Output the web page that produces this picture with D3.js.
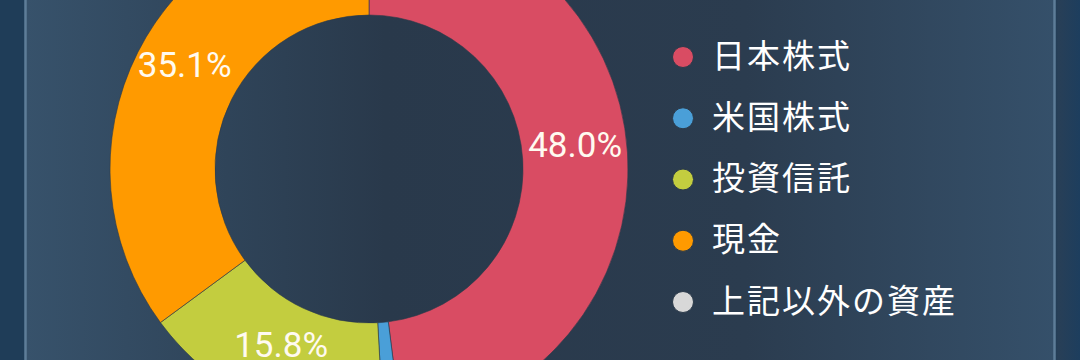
<!DOCTYPE html>
<html>
<head>
<meta charset="utf-8">
<script src="https://cdn.jsdelivr.net/npm/d3@7/dist/d3.min.js"></script>
<style>
  html, body { margin: 0; padding: 0; background: #1e3c58; }
  svg { display: block; }
</style>
</head>
<body>
<svg id="chart" width="1080" height="360"></svg>
<script>
const categories = ["日本株式", "米国株式", "投資信託", "現金", "上記以外の資産"];
const values = [48.0, 1.1, 15.8, 35.1, 0];
const colors = ["#d94c63", "#4a9fd8", "#c3cd3f", "#ff9a00", "#d8d8d8"];

const W = 1080, H = 360;
const svg = d3.select("#chart");
const defs = svg.append("defs");

const outerGrad = defs.append("linearGradient").attr("id", "outerGrad")
  .attr("x1", "0%").attr("x2", "100%").attr("y1", "0%").attr("y2", "0%");
outerGrad.append("stop").attr("offset", "0%").attr("stop-color", "#1f3d58");
outerGrad.append("stop").attr("offset", "97.5%").attr("stop-color", "#1f3d58");
outerGrad.append("stop").attr("offset", "98%").attr("stop-color", "#283f57");
outerGrad.append("stop").attr("offset", "100%").attr("stop-color", "#1d3e5e");

const panelGrad = defs.append("linearGradient").attr("id", "panelGrad")
  .attr("x1", "0%").attr("x2", "100%").attr("y1", "0%").attr("y2", "0%");
panelGrad.append("stop").attr("offset", "0%").attr("stop-color", "#37526b");
panelGrad.append("stop").attr("offset", "35%").attr("stop-color", "#29394b");
panelGrad.append("stop").attr("offset", "70%").attr("stop-color", "#2b3c4f");
panelGrad.append("stop").attr("offset", "100%").attr("stop-color", "#35506a");

svg.append("rect").attr("width", W).attr("height", H).attr("fill", "url(#outerGrad)");
svg.append("rect").attr("x", 25.5).attr("y", -5).attr("width", 1029).attr("height", H + 10)
  .attr("fill", "url(#panelGrad)").attr("stroke", "#5e7d98").attr("stroke-width", 2.5);

const cx = 369, cy = 169, rIn = 154, rOut = 259;

const pie = d3.pie().sort(null).value(d => d.v);
const data = pie(categories.map((c, i) => ({ c, v: values[i], color: colors[i] })));
const arc = d3.arc().innerRadius(rIn).outerRadius(rOut);

const g = svg.append("g").attr("transform", `translate(${cx},${cy})`);
g.selectAll("path.slice").data(data.filter(d => d.data.v > 0)).join("path")
  .attr("class", "slice")
  .attr("d", arc)
  .attr("fill", d => d.data.color)
  .attr("stroke", "#2b3a4a")
  .attr("stroke-opacity", 0.6)
  .attr("stroke-width", 1);

g.selectAll("text.lbl").data(data.filter(d => d.data.v >= 5)).join("text")
  .attr("class", "lbl")
  .attr("x", d => arc.centroid(d)[0])
  .attr("y", d => arc.centroid(d)[1] + 1)
  .attr("text-anchor", "middle")
  .attr("font-family", "Roboto, sans-serif")
  .attr("font-size", 35)
  .attr("fill", "#fffaf0")
  .text(d => d.data.v.toFixed(1) + "%");

const legendY = d3.scalePoint().domain(categories).range([57, 302]);
const lg = svg.append("g");
const rows = lg.selectAll("g.row").data(categories).join("g")
  .attr("class", "row")
  .attr("transform", d => `translate(0,${legendY(d)})`);
rows.append("circle").attr("cx", 683).attr("cy", 0).attr("r", 10.5)
  .attr("fill", (d, i) => colors[i]).attr("stroke", "#2b3a4a").attr("stroke-width", 1);
rows.append("text").attr("x", 712).attr("y", -3.5)
  .attr("dominant-baseline", "central")
  .attr("font-family", "'Noto Sans CJK JP', sans-serif")
  .attr("font-size", 33)
  .attr("letter-spacing", 2)
  .attr("fill", "#ffffff")
  .text(d => d);
</script>
</body>
</html>
